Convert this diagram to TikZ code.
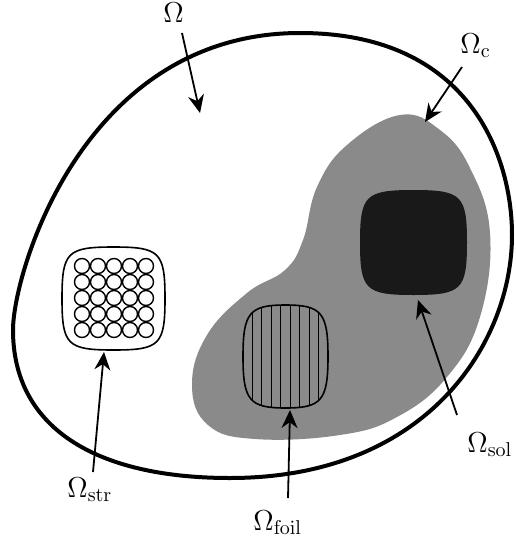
\documentclass[tikz,border=0pt]{standalone}
\usepackage{tikz}
\usetikzlibrary{arrows.meta}
\definecolor{coilgray}{gray}{0.54}
\definecolor{solidgray}{gray}{0.1}
\newcommand{\squircle}[5]{({#1},{#2-#4}) .. controls ({#1+#5*#3},{#2-#4}) and ({#1+#3},{#2-#5*#4}) .. ({#1+#3},{#2})
  .. controls ({#1+#3},{#2+#5*#4}) and ({#1+#5*#3},{#2+#4}) .. ({#1},{#2+#4})
  .. controls ({#1-#5*#3},{#2+#4}) and ({#1-#3},{#2+#5*#4}) .. ({#1-#3},{#2})
  .. controls ({#1-#3},{#2-#5*#4}) and ({#1-#5*#3},{#2-#4}) .. cycle}

\begin{document}
\begin{tikzpicture}[x=0.5pt,y=-0.5pt,
  lbl/.style={font=\fontsize{14}{16}\selectfont, inner sep=0pt, anchor=base west},
  pointer/.style={-{Stealth[length=9pt,width=8pt]}, line width=0.9pt}]
\useasboundingbox (0,0) rectangle (515,541);
\fill[coilgray] plot[smooth cycle, tension=0.7] coordinates {(400,115) (440,130) (470,168) (490,233) (480,317) (447,377) (397,417) (340,435) (255,439) (208,425) (192,385) (207,335) (247,293) (285,270) (303,240) (317,187) (347,145)};
\fill[solidgray] \squircle{413.5}{242.5}{53.5}{52.5}{0.9};
\draw[line width=0.8pt] \squircle{113.5}{298.5}{51.5}{51.5}{0.9};
\foreach \i in {0,...,4}
  \foreach \j in {0,...,4}
    \draw[line width=0.7pt] ({82+16*\i},{266+16*\j}) circle (7.5);
\begin{scope}
\clip \squircle{285.5}{356.5}{42.5}{51.5}{0.85};
\foreach \k in {1,...,8}
  \draw[line width=0.5pt] ({243+85*\k/9},300) -- ({243+85*\k/9},415);
\end{scope}
\draw[line width=0.8pt] \squircle{285.5}{356.5}{42.5}{51.5}{0.85};
\draw[line width=2pt] (300,33) .. controls (471,33) and (512,158) .. (512,235)
  .. controls (512,343) and (427,478) .. (230,478)
  .. controls (93,478) and (13,426) .. (13,330)
  .. controls (13,273) and (83,33) .. cycle;
\node[lbl] (omega) at (163,22) {$\Omega$};
\node[lbl] (omegac) at (460,53) {$\Omega_{\mathrm{c}}$};
\node[lbl] (omegasol) at (467,452) {$\Omega_{\mathrm{sol}}$};
\node[lbl] (omegafoil) at (253,530) {$\Omega_{\mathrm{foil}}$};
\node[lbl] (omegastr) at (67,497) {$\Omega_{\mathrm{str}}$};
\coordinate (omega-from) at (182,33);
\coordinate (omega-to) at (200,113);
\coordinate (omegac-from) at (462,67);
\coordinate (omegac-to) at (425,122);
\coordinate (omegasol-from) at (457,415);
\coordinate (omegasol-to) at (418,300);
\coordinate (omegafoil-from) at (288,498);
\coordinate (omegafoil-to) at (290,410);
\coordinate (omegastr-from) at (93,472);
\coordinate (omegastr-to) at (104,352);
\draw[pointer] (omega-from) -- (omega-to);
\draw[pointer] (omegac-from) -- (omegac-to);
\draw[pointer] (omegasol-from) -- (omegasol-to);
\draw[pointer] (omegafoil-from) -- (omegafoil-to);
\draw[pointer] (omegastr-from) -- (omegastr-to);
\end{tikzpicture}
\end{document}
